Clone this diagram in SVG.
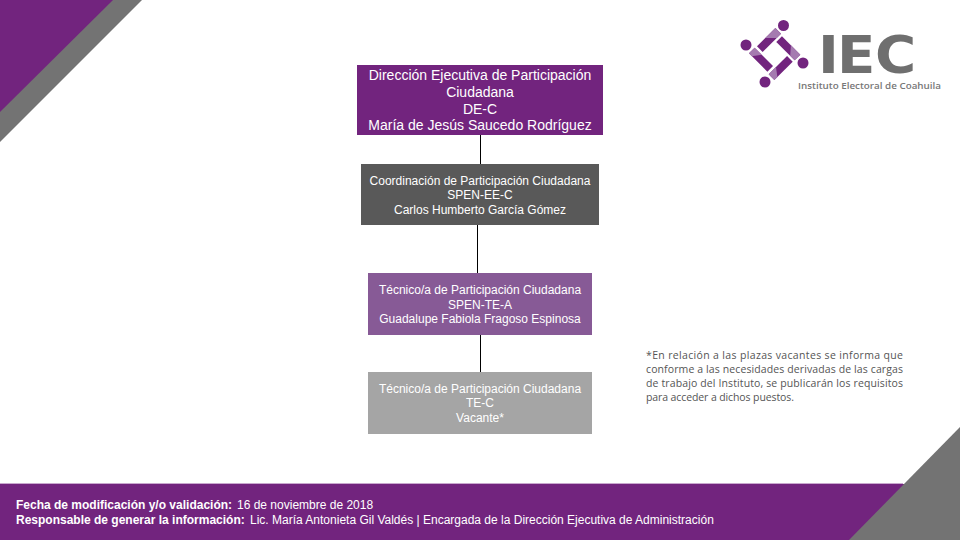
<svg xmlns="http://www.w3.org/2000/svg" width="960" height="540" viewBox="0 0 960 540">
<style>
.t{font-family:"Liberation Sans",Arial,sans-serif;fill:#fff;text-anchor:middle}
.s12{font-size:12px}.s14{font-size:14px}
.note{font-family:"Open Sans","Noto Sans",sans-serif;font-size:10.5px;fill:#555}
.foot{font-family:"Liberation Sans",Arial,sans-serif;font-size:12px;fill:#fff}
.b{font-weight:bold}
.conn{stroke:#000;stroke-width:1;fill:none}
.dark{fill:#72247e}.light{fill:#a57bb0}
</style>
<rect width="960" height="540" fill="#fff"/>
<polygon points="0,0 142,0 0,142" fill="#737373"/>
<polygon points="0,0 113,0 0,112" fill="#72247e"/>
<rect x="0" y="484" width="960" height="56" fill="#72247e"/>
<rect x="0" y="483" width="903" height="1" fill="#c9a8ce"/>
<polygon points="960,427 960,540 849,540" fill="#737373"/>
<g id="logo">
<circle class="dark" cx="783.500" cy="25.500" r="5.500"/>
<circle class="dark" cx="746" cy="45" r="5.500"/>
<circle class="dark" cx="803" cy="63" r="5.500"/>
<circle class="dark" cx="765" cy="82" r="5.500"/>
<g transform="rotate(-45 769 40)"><rect class="dark" x="756" y="36" width="26" height="8"/><polygon class="light" points="768,36 782,36 782,44 776,44"/></g>
<g transform="rotate(45 788.300 48.300)"><rect class="dark" x="775.300" y="44.300" width="26" height="8"/><polygon class="light" points="788,44.300 801.300,44.300 801.300,52.300 795,52.300"/></g>
<g transform="rotate(-45 780.700 68)"><rect class="dark" x="767.700" y="64" width="26" height="8"/><polygon class="light" points="767.700,64 778,64 772,72 767.700,72"/></g>
<g transform="rotate(45 761 59.700)"><rect class="dark" x="748" y="55.700" width="26" height="8"/><polygon class="light" points="748,55.700 758,55.700 752,63.700 748,63.700"/></g>
<text transform="translate(0 73) scale(1.08 1)" x="757.400 775 810.200" y="0" style="font-family:'DejaVu Sans',sans-serif;font-weight:700;font-size:52px;fill:#6f6f6f">IEC</text>
<text x="798" y="88.500" style="font-family:'Open Sans',sans-serif;font-weight:600;font-size:9.500px;fill:#777" textLength="143" lengthAdjust="spacingAndGlyphs">Instituto Electoral de Coahuila</text>
</g>
<g id="connectors">
<line class="conn" x1="480.500" y1="135" x2="480.500" y2="164"/>
<line class="conn" x1="477.500" y1="225" x2="477.500" y2="273"/>
<line class="conn" x1="480.500" y1="335" x2="480.500" y2="372"/>
</g>
<g id="node-direccion">
<rect x="357" y="65" width="246" height="70" fill="#72247e"/>
<text class="t s14" x="480" y="80">Dirección Ejecutiva de Participación</text>
<text class="t s14" x="480" y="97">Ciudadana</text>
<text class="t s14" x="480" y="114">DE-C</text>
<text class="t s14" x="480" y="130">María de Jesús Saucedo Rodríguez</text>
</g>
<g id="node-coordinacion">
<rect x="361" y="164" width="238" height="61" fill="#595959"/>
<text class="t s12" x="480" y="185">Coordinación de Participación Ciudadana</text>
<text class="t s12" x="480" y="199">SPEN-EE-C</text>
<text class="t s12" x="480" y="214">Carlos Humberto García Gómez</text>
</g>
<g id="node-tecnico-a">
<rect x="368" y="273" width="224" height="62" fill="#875a96"/>
<text class="t s12" x="480" y="294">Técnico/a de Participación Ciudadana</text>
<text class="t s12" x="480" y="309">SPEN-TE-A</text>
<text class="t s12" x="480" y="323">Guadalupe Fabiola Fragoso Espinosa</text>
</g>
<g id="node-tecnico-c">
<rect x="368" y="372" width="224" height="62" fill="#a5a5a5"/>
<text class="t s12" x="480" y="393">Técnico/a de Participación Ciudadana</text>
<text class="t s12" x="480" y="407">TE-C</text>
<text class="t s12" x="480" y="422">Vacante*</text>
</g>
<g id="note">
<text class="note" x="646" y="359" textLength="257">*En relación a las plazas vacantes se informa que</text>
<text class="note" x="646" y="373" textLength="257">conforme a las necesidades derivadas de las cargas</text>
<text class="note" x="646" y="387" textLength="257">de trabajo del Instituto, se publicarán los requisitos</text>
<text class="note" x="646" y="401" textLength="148">para acceder a dichos puestos.</text>
</g>
<g id="footer">
<text class="foot" x="16" y="509"><tspan class="b">Fecha de modificación y/o validación:</tspan> <tspan x="237">16 de noviembre de 2018</tspan></text>
<text class="foot" x="16" y="524"><tspan class="b">Responsable de generar la información:</tspan> <tspan x="250">Lic. María Antonieta Gil Valdés | Encargada de la Dirección Ejecutiva de Administración</tspan></text>
</g>
</svg>
